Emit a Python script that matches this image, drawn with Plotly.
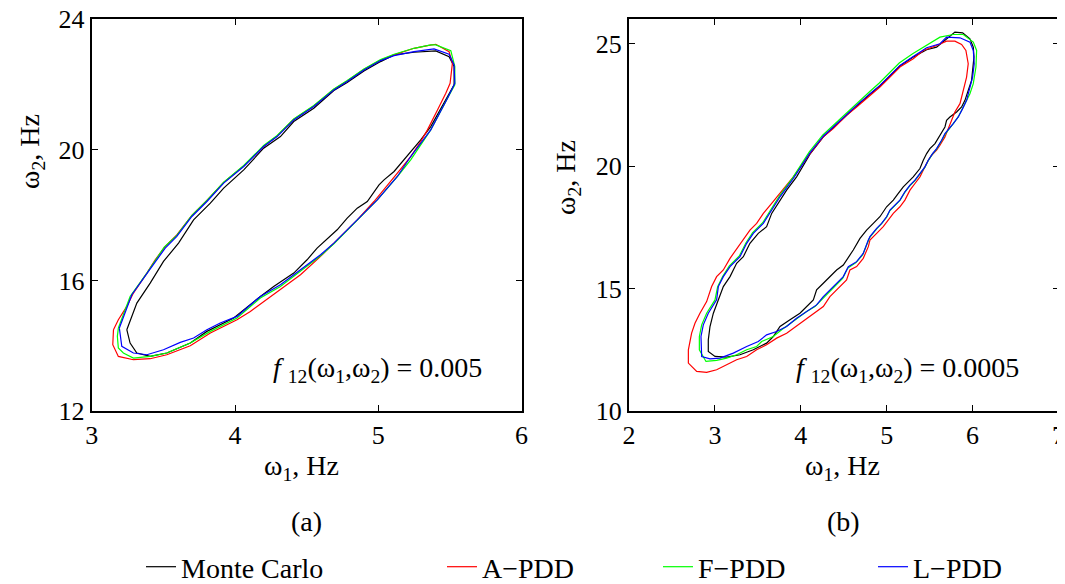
import plotly.graph_objects as go

# screen size and page offset (the html body adds an 8 px margin);
# the figure is made a little larger than the window, the overflow is simply cropped
W, H = 1065, 584
OFF = 8
FW, FH = W - OFF + 20, H - OFF + 30

# ---------------- Panel (a): f12 = 0.005 ----------------
a_mc_x = [3.245, 3.315, 3.408, 3.501, 3.606, 3.711, 3.828, 3.921, 4.061, 4.200, 4.317, 4.410, 4.550, 4.690, 4.783,
          4.900, 5.016, 5.110, 5.249, 5.401, 5.494, 5.529, 5.529, 5.471, 5.366, 5.296, 5.226, 5.156, 5.110, 5.040,
          5.005, 4.923, 4.853, 4.783, 4.713, 4.573, 4.503, 4.410, 4.270, 4.177, 4.061, 3.991, 3.804, 3.688, 3.524,
          3.408, 3.315, 3.268, 3.245]
a_mc_y = [14.490, 15.306, 15.918, 16.582, 17.143, 17.857, 18.367, 18.827, 19.388, 20.051, 20.408, 20.867, 21.276,
          21.816, 22.061, 22.418, 22.704, 22.908, 22.990, 23.031, 22.857, 22.551, 21.990, 21.531, 20.714, 20.306,
          19.949, 19.592, 19.337, 19.082, 18.929, 18.418, 18.214, 17.908, 17.551, 16.990, 16.633, 16.224, 15.816,
          15.510, 15.102, 14.847, 14.439, 14.082, 13.776, 13.673, 13.776, 14.082, 14.490]

a_a_x = [3.152, 3.186, 3.245, 3.291, 3.385, 3.443, 3.513, 3.594, 3.699, 3.804, 3.921, 4.061, 4.200, 4.294, 4.410,
         4.550, 4.690, 4.783, 4.900, 5.016, 5.110, 5.249, 5.343, 5.401, 5.494, 5.517, 5.501, 5.471, 5.413, 5.343,
         5.296, 5.226, 5.133, 4.970, 4.853, 4.690, 4.597, 4.457, 4.317, 4.107, 4.014, 3.828, 3.688, 3.524, 3.408,
         3.291, 3.186, 3.147, 3.152]
a_a_y = [14.490, 14.796, 15.204, 15.612, 16.224, 16.633, 17.041, 17.398, 17.990, 18.449, 19.000, 19.510, 20.102,
         20.429, 20.939, 21.347, 21.857, 22.112, 22.469, 22.755, 22.908, 23.112, 23.194, 23.235, 23.010, 22.653,
         22.041, 21.735, 21.224, 20.612, 20.255, 19.796, 19.286, 18.418, 17.857, 17.143, 16.735, 16.173, 15.714,
         15.051, 14.796, 14.388, 14.000, 13.724, 13.602, 13.571, 13.673, 14.031, 14.490]

a_f_x = [3.186, 3.268, 3.385, 3.506, 3.594, 3.699, 3.804, 3.921, 4.061, 4.200, 4.294, 4.410, 4.550, 4.690, 4.783,
         4.900, 5.016, 5.110, 5.249, 5.366, 5.401, 5.506, 5.534, 5.534, 5.483, 5.366, 5.226, 5.133, 4.993, 4.853,
         4.690, 4.597, 4.457, 4.317, 4.177, 4.014, 3.828, 3.688, 3.524, 3.408, 3.291, 3.221, 3.186, 3.179, 3.186]
a_f_y = [14.541, 15.510, 16.224, 17.020, 17.378, 17.990, 18.449, 19.010, 19.520, 20.133, 20.439, 20.949, 21.357,
         21.867, 22.122, 22.480, 22.765, 22.929, 23.112, 23.214, 23.214, 23.041, 22.551, 21.990, 21.582, 20.612,
         19.694, 19.184, 18.469, 17.857, 17.122, 16.755, 16.276, 15.816, 15.459, 14.847, 14.439, 14.082, 13.776,
         13.673, 13.622, 13.776, 13.929, 14.286, 14.541]

a_l_x = [3.193, 3.280, 3.396, 3.513, 3.594, 3.699, 3.804, 3.921, 4.061, 4.200, 4.294, 4.410, 4.550, 4.690, 4.783,
         4.900, 5.016, 5.110, 5.249, 5.389, 5.494, 5.529, 5.534, 5.483, 5.366, 5.226, 5.133, 4.993, 4.853, 4.783,
         4.690, 4.597, 4.457, 4.317, 4.177, 4.014, 3.897, 3.804, 3.711, 3.618, 3.501, 3.385, 3.291, 3.210, 3.193]
a_l_y = [14.541, 15.561, 16.276, 16.990, 17.347, 17.959, 18.418, 18.980, 19.490, 20.102, 20.408, 20.918, 21.327,
         21.837, 22.092, 22.449, 22.735, 22.888, 23.010, 23.092, 22.929, 22.602, 22.041, 21.582, 20.612, 19.796,
         19.184, 18.469, 17.857, 17.551, 17.143, 16.786, 16.327, 15.867, 15.510, 14.898, 14.694, 14.490, 14.235,
         14.102, 13.878, 13.724, 13.776, 13.980, 14.541]

# ---------------- Panel (b): f12 = 0.0005 ----------------
b_mc_x = [2.923, 2.943, 2.982, 3.040, 3.098, 3.176, 3.253, 3.331, 3.408, 3.505, 3.602, 3.661, 3.758, 3.835, 3.951,
          4.107, 4.262, 4.378, 4.533, 4.650, 4.805, 4.921, 5.038, 5.154, 5.309, 5.465, 5.581, 5.697, 5.794, 5.884,
          5.969, 6.008, 6.016, 6.000, 5.988, 5.949, 5.911, 5.872, 5.814, 5.736, 5.697, 5.678, 5.620, 5.562, 5.503,
          5.465, 5.426, 5.387, 5.309, 5.271, 5.193, 5.135, 5.077, 4.999, 4.921, 4.844, 4.766, 4.689, 4.611, 4.495,
          4.417, 4.262, 4.184, 4.146, 4.068, 3.990, 3.874, 3.758, 3.680, 3.602, 3.447, 3.292, 3.137, 3.001, 2.923,
          2.923]
b_mc_y = [12.908, 13.451, 13.995, 14.538, 15.082, 15.489, 16.033, 16.304, 16.848, 17.255, 17.527, 18.071, 18.614,
          19.022, 19.565, 20.489, 21.196, 21.576, 22.106, 22.459, 22.935, 23.274, 23.682, 24.090, 24.457, 24.755,
          24.864, 25.204, 25.476, 25.448, 25.204, 24.864, 24.457, 23.913, 23.505, 23.098, 22.690, 22.418, 22.215,
          22.011, 21.875, 21.603, 21.264, 20.924, 20.720, 20.516, 20.245, 19.905, 19.565, 19.429, 19.158, 18.886,
          18.614, 18.342, 17.935, 17.663, 17.391, 17.052, 16.576, 15.965, 15.761, 15.217, 14.946, 14.538, 14.266,
          13.995, 13.723, 13.451, 13.043, 12.772, 12.500, 12.296, 12.201, 12.228, 12.432, 12.908]

b_a_x = [2.691, 2.729, 2.768, 2.826, 2.904, 2.962, 3.020, 3.098, 3.176, 3.273, 3.331, 3.408, 3.486, 3.564, 3.661,
         3.758, 3.913, 4.107, 4.262, 4.378, 4.533, 4.650, 4.805, 4.921, 5.038, 5.154, 5.309, 5.426, 5.581, 5.697,
         5.794, 5.872, 5.922, 5.949, 5.930, 5.891, 5.853, 5.794, 5.756, 5.717, 5.678, 5.620, 5.581, 5.523, 5.484,
         5.445, 5.387, 5.329, 5.271, 5.212, 5.154, 5.077, 5.018, 4.960, 4.883, 4.805, 4.786, 4.727, 4.650, 4.572,
         4.533, 4.456, 4.339, 4.262, 4.107, 3.951, 3.835, 3.719, 3.602, 3.486, 3.370, 3.253, 3.137, 3.020, 2.904,
         2.788, 2.691, 2.691]
b_a_y = [12.500, 13.179, 13.587, 13.995, 14.470, 15.082, 15.489, 15.761, 16.236, 16.712, 16.984, 17.391, 17.663,
         18.071, 18.478, 18.886, 19.565, 20.516, 21.196, 21.535, 22.079, 22.418, 22.894, 23.234, 23.641, 24.049,
         24.389, 24.728, 24.932, 25.109, 25.109, 24.973, 24.728, 24.185, 23.641, 23.098, 22.554, 22.215, 21.875,
         21.603, 21.196, 20.856, 20.652, 20.448, 20.245, 19.973, 19.565, 19.293, 19.022, 18.614, 18.342, 18.071,
         17.799, 17.527, 17.255, 16.984, 16.712, 16.236, 15.897, 15.761, 15.353, 15.082, 14.674, 14.266, 13.859,
         13.451, 13.179, 12.976, 12.704, 12.500, 12.228, 12.092, 11.889, 11.685, 11.576, 11.617, 11.957, 12.500]

b_f_x = [2.819, 2.846, 2.904, 3.001, 3.032, 3.090, 3.168, 3.284, 3.362, 3.439, 3.556, 3.653, 3.750, 3.905, 4.099,
         4.254, 4.370, 4.526, 4.642, 4.797, 4.914, 5.030, 5.146, 5.302, 5.465, 5.620, 5.775, 5.891, 6.008, 6.047,
         6.039, 6.008, 5.969, 5.930, 5.884, 5.833, 5.775, 5.717, 5.678, 5.639, 5.581, 5.534, 5.484, 5.445, 5.387,
         5.329, 5.271, 5.212, 5.154, 5.096, 5.038, 4.999, 4.941, 4.883, 4.805, 4.786, 4.720, 4.642, 4.545, 4.487,
         4.370, 4.254, 4.165, 4.068, 3.990, 3.874, 3.777, 3.680, 3.544, 3.486, 3.370, 3.253, 3.137, 3.020, 2.896,
         2.819, 2.819]
b_f_y = [13.043, 13.519, 13.995, 14.538, 15.082, 15.489, 15.924, 16.332, 16.875, 17.283, 17.690, 18.234, 18.777,
         19.524, 20.584, 21.264, 21.644, 22.174, 22.554, 23.030, 23.397, 23.804, 24.212, 24.592, 24.932, 25.272,
         25.380, 25.380, 25.068, 24.728, 24.049, 23.370, 22.962, 22.690, 22.351, 22.011, 21.739, 21.467, 21.300,
         21.040, 20.700, 20.500, 20.230, 19.960, 19.690, 19.410, 19.210, 18.940, 18.600, 18.400, 18.190, 17.920,
         17.650, 17.440, 17.100, 16.957, 16.372, 16.060, 15.829, 15.421, 15.014, 14.606, 14.266, 14.062, 13.859,
         13.587, 13.315, 13.043, 12.840, 12.636, 12.500, 12.296, 12.160, 12.065, 12.024, 12.500, 13.043]

b_l_x = [2.838, 2.865, 2.923, 3.020, 3.040, 3.098, 3.176, 3.292, 3.370, 3.447, 3.564, 3.661, 3.758, 3.913, 4.107,
         4.262, 4.378, 4.533, 4.650, 4.805, 4.921, 5.038, 5.154, 5.309, 5.465, 5.620, 5.697, 5.853, 5.969, 6.008,
         6.019, 6.000, 5.961, 5.930, 5.884, 5.833, 5.775, 5.717, 5.678, 5.639, 5.581, 5.534, 5.484, 5.445, 5.387,
         5.329, 5.271, 5.212, 5.154, 5.096, 5.038, 4.999, 4.941, 4.883, 4.805, 4.786, 4.727, 4.650, 4.553, 4.495,
         4.378, 4.262, 4.184, 4.029, 3.951, 3.835, 3.719, 3.602, 3.505, 3.370, 3.214, 3.059, 2.943, 2.846, 2.838]
b_l_y = [13.043, 13.519, 13.995, 14.538, 15.082, 15.489, 15.897, 16.304, 16.848, 17.255, 17.663, 18.207, 18.750,
         19.497, 20.543, 21.223, 21.603, 22.120, 22.486, 22.962, 23.302, 23.709, 24.117, 24.484, 24.837, 25.000,
         25.272, 25.245, 25.068, 24.728, 24.185, 23.641, 23.098, 22.690, 22.351, 22.011, 21.739, 21.467, 21.332,
         21.060, 20.720, 20.516, 20.245, 19.973, 19.701, 19.429, 19.226, 18.954, 18.614, 18.410, 18.207, 17.935,
         17.663, 17.459, 17.120, 16.984, 16.440, 16.100, 15.897, 15.489, 15.082, 14.674, 14.334, 13.995, 13.791,
         13.451, 13.247, 13.111, 12.840, 12.636, 12.364, 12.160, 12.133, 12.228, 13.043]

series_names = ["Monte Carlo", "A\u2212PDD", "F\u2212PDD", "L\u2212PDD"]
series_colors = ["#000000", "#ff0000", "#00ff00", "#0000ff"]
panel_a = [(a_mc_x, a_mc_y), (a_a_x, a_a_y), (a_f_x, a_f_y), (a_l_x, a_l_y)]
panel_b = [(b_mc_x, b_mc_y), (b_a_x, b_a_y), (b_f_x, b_f_y), (b_l_x, b_l_y)]
panel_labels = ["(a)", "(b)"]
level_texts = ["<i>f</i> <sub>12</sub>(\u03c9<sub>1</sub>,\u03c9<sub>2</sub>) = 0.005",
               "<i>f</i> <sub>12</sub>(\u03c9<sub>1</sub>,\u03c9<sub>2</sub>) = 0.0005"]

a_xticks = [3, 4, 5, 6]
a_yticks = [12, 16, 20, 24]
b_xticks = [2, 3, 4, 5, 6, 7]
b_yticks = [10, 15, 20, 25]

FONT = "Liberation Serif"
TICK_SIZE = 26
TEXT_SIZE = 28

fig = go.Figure()

legend_keys = ["legend", "legend2", "legend3", "legend4"]
for i, (x, y) in enumerate(panel_a):
    fig.add_trace(go.Scatter(x=x, y=y, mode="lines", name=series_names[i],
                             line=dict(color=series_colors[i], width=1.2),
                             xaxis="x", yaxis="y", showlegend=True, legend=legend_keys[i]))
for i, (x, y) in enumerate(panel_b):
    fig.add_trace(go.Scatter(x=x, y=y, mode="lines", name=series_names[i],
                             line=dict(color=series_colors[i], width=1.2),
                             xaxis="x2", yaxis="y2", showlegend=False))

def px(v):
    return (v - OFF) / FW

def py(v):
    return 1 - (v - OFF) / FH

axis_common = dict(showline=True, linecolor="black", linewidth=2, mirror="ticks", ticks="inside",
                   ticklen=6, tickwidth=1, tickcolor="black", showgrid=False, zeroline=False,
                   automargin=False, ticklabeloverflow="allow",
                   tickfont=dict(family=FONT, size=TICK_SIZE, color="black"))

ydom = [py(411), py(19.3)]
fig.update_layout(
    width=FW, height=FH, autosize=False,
    margin=dict(l=0, r=0, t=0, b=0, pad=0),
    paper_bgcolor="white", plot_bgcolor="white",
    font=dict(family=FONT, size=TEXT_SIZE, color="black"),
    xaxis=dict(domain=[px(91.7), px(521.6)], range=[3, 6], tickvals=a_xticks, anchor="y", **axis_common),
    yaxis=dict(domain=ydom, range=[12, 24], tickvals=a_yticks, anchor="x", **axis_common),
    xaxis2=dict(domain=[px(629), px(1058.5)], range=[2, 7], tickvals=b_xticks, anchor="y2", **axis_common),
    yaxis2=dict(domain=ydom, range=[10, 26], tickvals=b_yticks, anchor="x2", **axis_common),
)

leg_x = [141, 442, 658, 873]
for k, lx in zip(legend_keys, leg_x):
    fig.update_layout({k: dict(x=px(lx), y=py(567), xanchor="left", yanchor="middle",
                               orientation="h", bgcolor="rgba(0,0,0,0)",
                               font=dict(family=FONT, size=TEXT_SIZE, color="black"))})

def note(text, x, y, angle=0):
    return dict(text=text, x=px(x), y=py(y), xref="paper", yref="paper", xanchor="center",
                yanchor="middle", textangle=angle, showarrow=False,
                font=dict(family=FONT, size=TEXT_SIZE, color="black"))

annos = [
    # axis titles
    note("\u03c9<sub>1</sub>, Hz", 301, 467),
    note("\u03c9<sub>1</sub>, Hz", 842, 467),
    note("\u03c9<sub>2</sub>, Hz", 31, 152, -90),
    note("\u03c9<sub>2</sub>, Hz", 568, 178, -90),
    # level annotations
    note(level_texts[0], 377, 369),
    note(level_texts[1], 907, 369),
    # panel labels
    note(panel_labels[0], 306, 521),
    note(panel_labels[1], 843, 521),
]
fig.update_layout(annotations=annos)

fig.write_html("out.html")
